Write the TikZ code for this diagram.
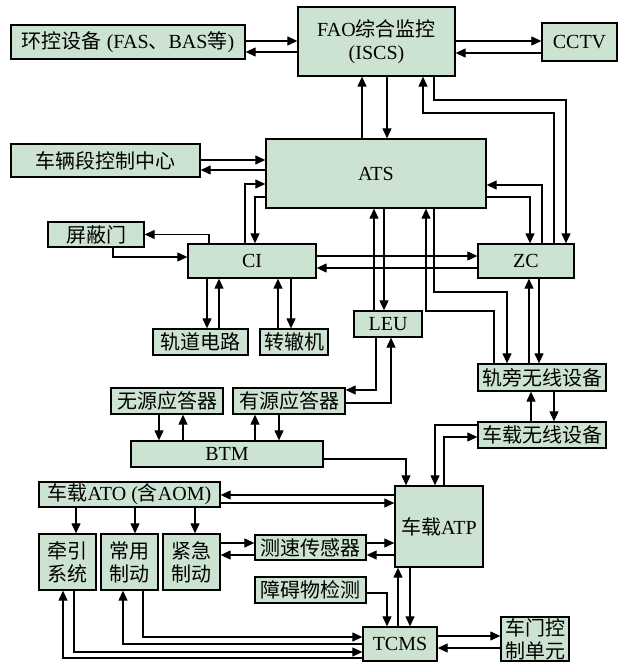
\documentclass[tikz,border=0pt]{standalone}
\usepackage{fontspec}
\setmainfont{Liberation Serif}
\newfontfamily\cjk{Noto Sans CJK SC}
\newcommand\zh[1]{{\cjk #1}}
\usetikzlibrary{arrows.meta}
\definecolor{boxgreen}{RGB}{205,227,209}

\begin{document}
\begin{tikzpicture}[x=1pt, y=-1pt, line join=miter,
    font=\fontsize{20}{23}\selectfont,
    blk/.style={draw, fill=boxgreen, line width=1.3pt, inner sep=0pt, align=center},
    arr/.style={line width=1.1pt, -{Triangle[length=10pt,width=9pt]}}]
  \useasboundingbox (0,0) rectangle (619,663);

  % control centre level
  \node[blk, minimum width=234pt, minimum height=34pt] (hk) at (128,42) {\zh{环控设备} (FAS\zh{、}BAS\zh{等})};
  \node[blk, minimum width=157pt, minimum height=69pt] (iscs) at (376.5,41.5) {FAO\zh{综合监控}\\(ISCS)};
  \node[blk, minimum width=75pt, minimum height=38pt] (cctv) at (579.5,42) {CCTV};
  \node[blk, minimum width=189pt, minimum height=33pt] (vd) at (105.5,160.5) {\zh{车辆段控制中心}};
  \node[blk, minimum width=220pt, minimum height=69pt] (ats) at (376,173.5) {ATS};

  % trackside
  \node[blk, minimum width=96pt, minimum height=25pt] (psd) at (96,234.5) {\zh{屏蔽门}};
  \node[blk, minimum width=128pt, minimum height=34pt] (ci) at (252,261) {CI};
  \node[blk, minimum width=96pt, minimum height=34pt] (zc) at (526,261) {ZC};
  \node[blk, minimum width=95pt, minimum height=26pt] (tc) at (200.5,342) {\zh{轨道电路}};
  \node[blk, minimum width=68pt, minimum height=26pt] (sw) at (294,342) {\zh{转辙机}};
  \node[blk, minimum width=68pt, minimum height=26pt] (leu) at (388,324) {LEU};
  \node[blk, minimum width=128pt, minimum height=27pt] (wr) at (542,377.5) {\zh{轨旁无线设备}};
  \node[blk, minimum width=128pt, minimum height=26pt] (vr) at (542,435) {\zh{车载无线设备}};
  \node[blk, minimum width=112pt, minimum height=26pt] (pb) at (167,401) {\zh{无源应答器}};
  \node[blk, minimum width=112pt, minimum height=26pt] (ab) at (289,401) {\zh{有源应答器}};
  \node[blk, minimum width=192pt, minimum height=26pt] (btm) at (227,454) {BTM};

  % onboard
  \node[blk, minimum width=181pt, minimum height=25pt] (ato) at (129.5,494.5) {\zh{车载}ATO (\zh{含}AOM)};
  \node[blk, minimum width=57pt, minimum height=56pt] (trac) at (67.5,562) {\zh{牵引}\\\zh{系统}};
  \node[blk, minimum width=57pt, minimum height=56pt] (sb) at (129.5,562) {\zh{常用}\\\zh{制动}};
  \node[blk, minimum width=57pt, minimum height=56pt] (eb) at (191.5,562) {\zh{紧急}\\\zh{制动}};
  \node[blk, minimum width=111pt, minimum height=25pt] (spd) at (310.5,547.5) {\zh{测速传感器}};
  \node[blk, minimum width=111pt, minimum height=26pt] (obs) at (310.5,590) {\zh{障碍物检测}};
  \node[blk, minimum width=88pt, minimum height=81pt] (atp) at (439,526.5) {\zh{车载}ATP};
  \node[blk, minimum width=74pt, minimum height=34pt] (tcms) at (400,644) {TCMS};
  \node[blk, minimum width=68pt, minimum height=44pt] (door) at (535,639) {\zh{车门控}\\\zh{制单元}};

  % ISCS links
  \draw[arr] (hk.east |- 0,41) -- (iscs.west |- 0,41);
  \draw[arr] (iscs.west |- 0,52) -- (hk.east |- 0,52);
  \draw[arr] (iscs.east |- 0,41) -- (cctv.west |- 0,41);
  \draw[arr] (cctv.west |- 0,53) -- (iscs.east |- 0,53);
  \draw[arr] (362,0 |- ats.north) -- (362,0 |- iscs.south);
  \draw[arr] (387,0 |- iscs.south) -- (387,0 |- ats.north);
  \draw[arr] (554,0 |- zc.north) |- (423,113) -- (423,0 |- iscs.south);
  \draw[arr] (434,0 |- iscs.south) |- (566,100) -- (566,0 |- zc.north);

  % ATS links
  \draw[arr] (542,0 |- zc.north) |- (ats.east |- 0,185);
  \draw[arr] (ats.east |- 0,197) -| (530,0 |- zc.north);
  \draw[arr] (vd.east |- 0,160) -- (ats.west |- 0,160);
  \draw[arr] (ats.west |- 0,170) -- (vd.east |- 0,170);
  \draw[arr] (245,0 |- ci.north) |- (ats.west |- 0,184);
  \draw[arr] (ats.west |- 0,197) -| (255,0 |- ci.north);
  \draw[arr] (374,0 |- leu.north) -- (374,0 |- ats.south);
  \draw[arr] (384,0 |- ats.south) -- (384,0 |- leu.north);
  \draw[arr] (494,0 |- wr.north) |- (426,311) -- (426,0 |- ats.south);
  \draw[arr] (434,0 |- ats.south) |- (507,292) -- (507,0 |- wr.north);

  % CI links
  \draw[arr] (ci.east |- 0,256) -- (zc.west |- 0,256);
  \draw[arr] (zc.west |- 0,268) -- (ci.east |- 0,268);
  \draw[arr] (209,0 |- ci.north) |- (psd.east);
  \draw[arr] (113,0 |- psd.south) |- (ci.west |- 0,257);
  \draw[arr] (207,0 |- ci.south) -- (207,0 |- tc.north);
  \draw[arr] (219,0 |- tc.north) -- (219,0 |- ci.south);
  \draw[arr] (278,0 |- sw.north) -- (278,0 |- ci.south);
  \draw[arr] (291,0 |- ci.south) -- (291,0 |- sw.north);

  % radio and balises
  \draw[arr] (529,0 |- wr.north) -- (529,0 |- zc.south);
  \draw[arr] (539,0 |- zc.south) -- (539,0 |- wr.north);
  \draw[arr] (531,0 |- vr.north) -- (531,0 |- wr.south);
  \draw[arr] (554,0 |- wr.south) -- (554,0 |- vr.north);
  \draw[arr] (vr.west |- 0,425) -| (435,0 |- atp.north);
  \draw[arr] (444,0 |- atp.north) |- (vr.west |- 0,437);
  \draw[arr] (376,0 |- leu.south) |- (ab.east |- 0,390);
  \draw[arr] (ab.east |- 0,403) -| (391,0 |- leu.south);
  \draw[arr] (159,0 |- pb.south) -- (159,0 |- btm.north);
  \draw[arr] (183,0 |- btm.north) -- (183,0 |- pb.south);
  \draw[arr] (255,0 |- btm.north) -- (255,0 |- ab.south);
  \draw[arr] (279,0 |- ab.south) -- (279,0 |- btm.north);
  \draw[arr] (btm.east |- 0,459) -| (406,0 |- atp.north);

  % onboard links
  \draw[arr] (atp.west |- 0,495) -- (ato.east |- 0,495);
  \draw[arr] (ato.east |- 0,503) -- (atp.west |- 0,503);
  \draw[arr] (76,0 |- ato.south) -- (76,0 |- trac.north);
  \draw[arr] (135,0 |- ato.south) -- (135,0 |- sb.north);
  \draw[arr] (195,0 |- ato.south) -- (195,0 |- eb.north);
  \draw[arr] (eb.east |- 0,543) -- (spd.west |- 0,543);
  \draw[arr] (spd.west |- 0,555) -- (eb.east |- 0,555);
  \draw[arr] (spd.east |- 0,543) -- (atp.west |- 0,543);
  \draw[arr] (atp.west |- 0,555) -- (spd.east |- 0,555);
  \draw[arr] (obs.east |- 0,593) -| (387,0 |- tcms.north);
  \draw[arr] (398,0 |- tcms.north) -- (398,0 |- atp.south);
  \draw[arr] (410,0 |- atp.south) -- (410,0 |- tcms.north);
  \draw[arr] (tcms.east |- 0,636) -- (door.west |- 0,636);
  \draw[arr] (door.west |- 0,648) -- (tcms.east |- 0,648);
  \draw[arr] (143,0 |- sb.south) |- (tcms.west |- 0,637);
  \draw[arr] (tcms.west |- 0,644) -| (123,0 |- sb.south);
  \draw[arr] (74,0 |- trac.south) |- (tcms.west |- 0,652);
  \draw[arr] (tcms.west |- 0,658) -| (63,0 |- trac.south);
\end{tikzpicture}
\end{document}
